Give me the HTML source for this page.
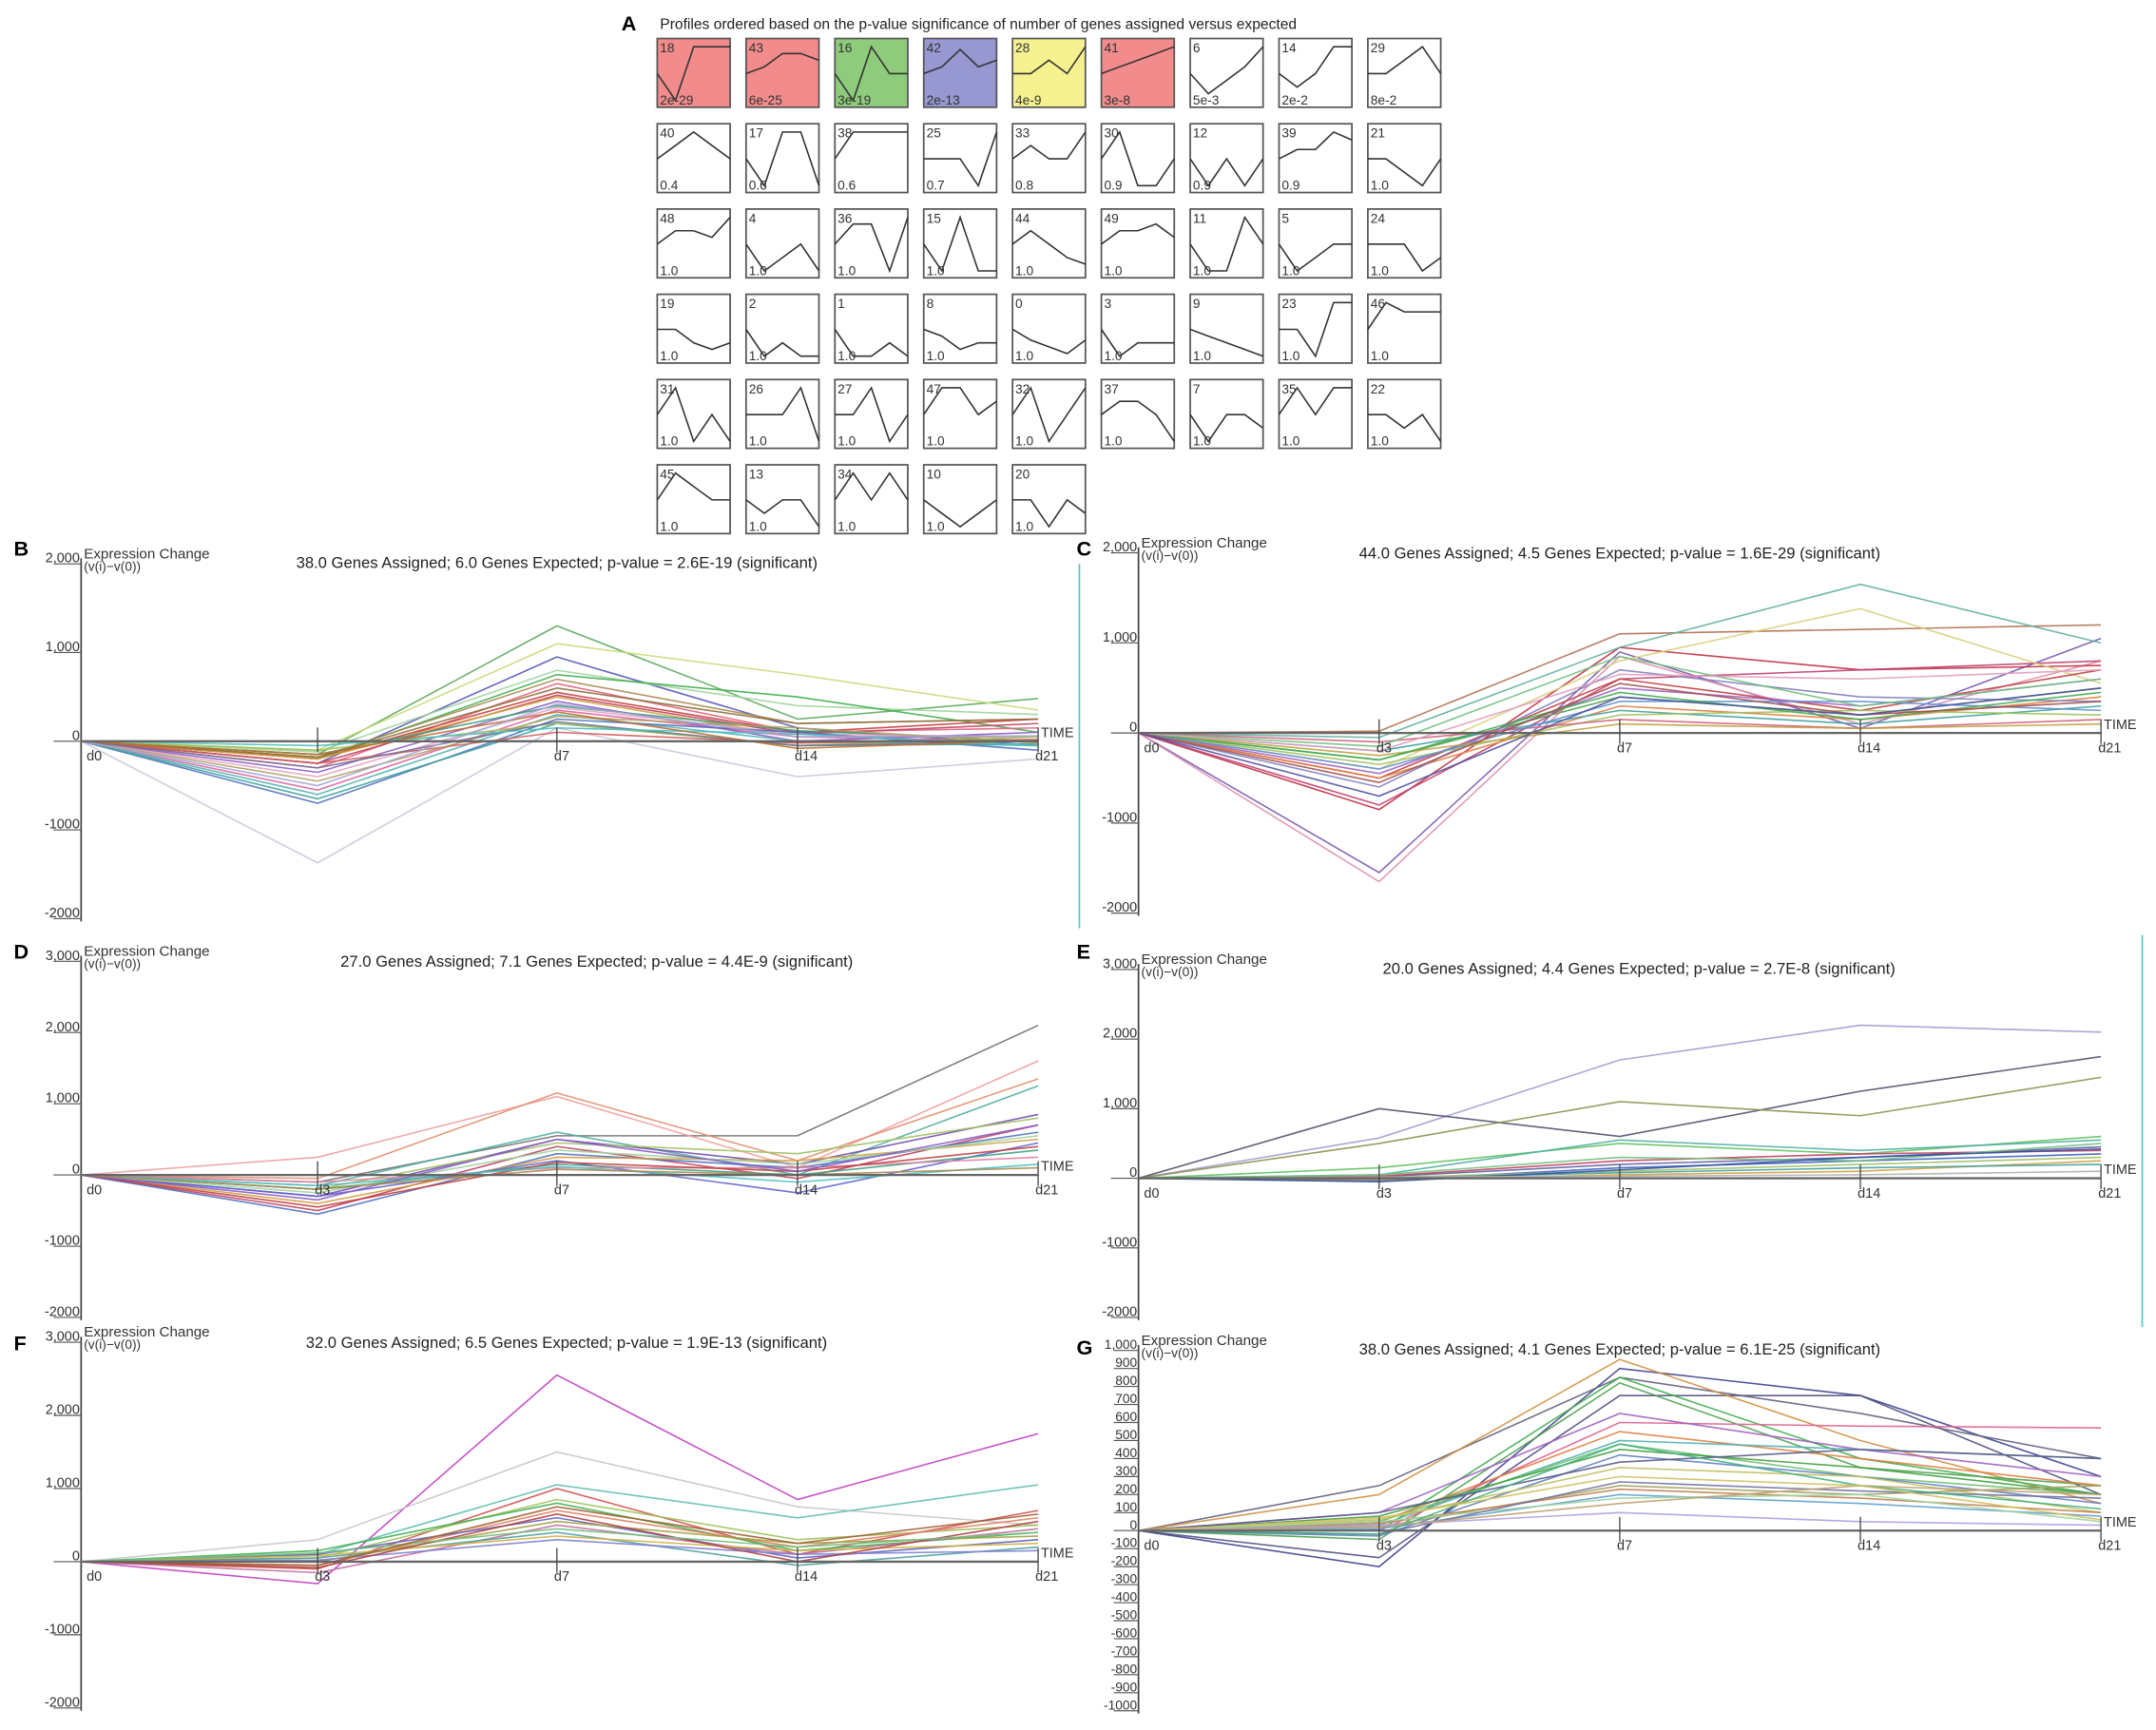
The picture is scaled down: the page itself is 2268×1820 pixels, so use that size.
<!DOCTYPE html>
<html><head><meta charset="utf-8"><style>
html,body{margin:0;padding:0;background:#fff;}
svg{display:block;font-family:"Liberation Sans",sans-serif;}
</style></head><body>
<svg id="fig" width="2268" height="1820" viewBox="0 0 1568 1258" preserveAspectRatio="none" xmlns="http://www.w3.org/2000/svg">
<rect x="0" y="0" width="1568" height="1258" fill="#fff"/>
<text x="452" y="22" font-size="15" font-weight="bold">A</text>
<text x="480" y="21" font-size="10.8" fill="#222">Profiles ordered based on the p-value significance of number of genes assigned versus expected</text>
<g id="profiles"></g>
<line x1="785" y1="410" x2="785" y2="675" stroke="#5cc8c8" stroke-width="1.2"/>
<line x1="1558" y1="680" x2="1558" y2="965" stroke="#5cc8c8" stroke-width="1.2"/>
<g id="charts"></g>
</svg>
<script>
const NS='http://www.w3.org/2000/svg';
// ---------- Panel A data ----------
const profileIds=[18,43,16,42,28,41,6,14,29,40,17,38,25,33,30,12,39,21,48,4,36,15,44,49,11,5,24,19,2,1,8,0,3,9,23,46,31,26,27,47,32,37,7,35,22,45,13,34,10,20];
const profilePvals=['2e-29','6e-25','3e-19','2e-13','4e-9','3e-8','5e-3','2e-2','8e-2','0.4','0.6','0.6','0.7','0.8','0.9','0.9','0.9','1.0','1.0','1.0','1.0','1.0','1.0','1.0','1.0','1.0','1.0','1.0','1.0','1.0','1.0','1.0','1.0','1.0','1.0','1.0','1.0','1.0','1.0','1.0','1.0','1.0','1.0','1.0','1.0','1.0','1.0','1.0','1.0','1.0'];
const profileShapes=[[0,-2,2,2,2],[0,0.5,1.5,1.5,1],[0,-2,2,0,0],[0,0.5,1.8,0.5,1],[0,0,1,0,2],[0,0.5,1,1.5,2],[0,-1.5,-0.5,0.5,2],[0,-1,0,2,2],[0,0,1,2,0],
[0,1,2,1,0],[0,-2,2,2,-2],[0,2,2,2,2],[0,0,0,-2,2],[0,1,0,0,2],[0,2,-2,-2,0],[0,-2,0,-2,0],[0,0.7,0.7,2,1.4],[0,0,-1,-2,0],
[0,1,1,0.5,2],[0,-2,-1,0,-2],[0,1.5,1.5,-2,2],[0,-2,2,-2,-2],[0,1,0,-1,-1.5],[0,1,1,1.5,0.5],[0,-2,-2,2,0],[0,-2,-1,0,0],[0,0,0,-2,-1],
[0,0,-1,-1.5,-1],[0,-2,-1,-2,-2],[0,-2,-2,-1,-2],[0,-0.5,-1.5,-1,-1],[0,-0.8,-1.3,-1.8,-0.8],[0,-2,-1,-1,-1],[0,-0.5,-1,-1.5,-2],[0,0,-2,2,2],[0,2,1.3,1.3,1.3],
[0,2,-2,0,-2],[0,0,0,2,-2],[0,0,2,-2,0],[0,2,2,0,1],[0,2,-2,0,2],[0,1,1,0,-2],[0,-2,0,0,-1],[0,2,0,2,2],[0,0,-1,0,-2],
[0,2,1,0,0],[0,-1,0,0,-2],[0,2,0,2,0],[0,-1,-2,-1,0],[0,0,-2,0,-1]];
const profileFills=['#f28b8b','#f28b8b','#8fcb7c','#9797d2','#f4f18e','#f28b8b'];

(function(){
  const g=document.getElementById('profiles');
  profileIds.forEach((id,i)=>{
    const col=i%9,row=Math.floor(i/9);
    const bx=478+col*64.6,by=28+row*62,bw=53,bh=50;
    const grp=document.createElementNS(NS,'g');
    
    
    const r=document.createElementNS(NS,'rect');
    r.setAttribute('x',bx);r.setAttribute('y',by);r.setAttribute('width',bw);r.setAttribute('height',bh);
    r.setAttribute('fill',i<6?profileFills[i]:'#fff');r.setAttribute('stroke','#555');r.setAttribute('stroke-width','1.2');
    grp.appendChild(r);
    const sh=profileShapes[i];
    const top=by+6,bot=by+bh-5;
    const pts=sh.map((v,k)=>(bx+k*bw/4).toFixed(1)+','+(bot-(v+2)/4*(bot-top)).toFixed(1)).join(' ');
    const pl=document.createElementNS(NS,'polyline');
    pl.setAttribute('points',pts);pl.setAttribute('fill','none');pl.setAttribute('stroke','#333');pl.setAttribute('stroke-width','1.1');
    grp.appendChild(pl);
    const t1=document.createElementNS(NS,'text');
    t1.setAttribute('x',bx+2);t1.setAttribute('y',by+10);t1.setAttribute('font-size','9.5');t1.setAttribute('fill','#333');
    t1.textContent=id;grp.appendChild(t1);
    const t2=document.createElementNS(NS,'text');
    t2.setAttribute('x',bx+2);t2.setAttribute('y',by+bh-2);t2.setAttribute('font-size','9.5');t2.setAttribute('fill','#333');
    t2.textContent=profilePvals[i];grp.appendChild(t2);
    g.appendChild(grp);
  });
})();

// ---------- Charts data ----------
const timepoints=['d0','d3','d7','d14','d21'];
const bData=[[0,-150,1300,250,480],[0,-100,1100,750,350],[0,-250,950,150,-50],[0,-120,800,400,300],[0,-200,750,500,100],[0,-180,700,200,250],[0,-300,650,100,150],[0,-200,550,100,250],[0,-250,520,80,200],[0,-200,500,50,50],[0,-350,450,0,100],[0,-150,400,120,0],[0,-400,380,80,50],[0,-550,350,50,0],[0,-600,300,0,-50],[0,-700,250,100,-100],[0,-650,200,-50,-30],[0,-1370,150,-400,-200],[0,-100,200,-50,50],[0,-250,100,-20,20],[0,-450,280,150,-20],[0,-180,600,200,250],[0,-300,220,-50,0],[0,-50,150,80,-50],[0,-150,330,-80,10],[0,-500,420,50,60]];
const cData=[[0,-1550,900,50,1050],[0,-1650,850,100,800],[0,-850,950,700,750],[0,-800,600,700,800],[0,20,1100,1150,1200],[0,-50,950,1650,1000],[0,-400,800,1380,550],[0,-500,600,250,700],[0,-450,500,300,600],[0,-300,400,200,500],[0,-500,300,150,400],[0,-600,700,400,350],[0,-200,250,100,300],[0,-350,200,250,200],[0,-100,150,50,150],[0,-400,350,350,250],[0,-250,100,50,100],[0,-300,450,150,450],[0,-150,850,300,600],[0,-550,550,200,350],[0,-700,400,200,500],[0,-200,650,600,700]];
const dData=[[0,-100,550,550,2100],[0,250,1100,100,1600],[0,-50,1150,200,1350],[0,-150,600,0,1250],[0,-300,500,150,850],[0,-200,450,300,800],[0,-500,400,-50,700],[0,-550,300,100,600],[0,-400,250,200,500],[0,-300,200,-250,450],[0,-200,150,0,350],[0,-100,100,100,250],[0,-250,350,150,550],[0,-450,180,50,400],[0,-150,120,-100,150],[0,-350,500,50,700],[0,-200,80,0,100]];
const eData=[[0,580,1700,2200,2100],[0,1000,600,1250,1750],[0,500,1100,900,1450],[0,150,500,350,600],[0,50,550,400,550],[0,20,200,300,450],[0,-30,150,250,350],[0,10,100,200,300],[0,30,250,350,400],[0,-20,50,100,250],[0,0,80,150,200],[0,50,300,250,500],[0,-50,120,300,420],[0,20,30,50,100]];
const fData=[[0,-300,2550,850,1750],[0,300,1500,750,500],[0,100,1050,600,1050],[0,-100,1000,100,700],[0,50,850,300,500],[0,150,800,150,400],[0,-50,700,200,600],[0,100,600,50,300],[0,0,550,250,350],[0,-150,500,100,450],[0,50,400,-50,200],[0,80,350,150,250],[0,20,300,100,150],[0,-80,650,0,550],[0,120,450,200,400],[0,-50,750,250,650]];
const gData=[[0,-200,900,750,300],[0,-150,750,750,200],[0,250,850,650,400],[0,200,950,500,150],[0,0,850,400,200],[0,-50,820,350,250],[0,0,600,580,570],[0,100,650,450,300],[0,50,550,400,250],[0,30,500,450,400],[0,50,480,300,200],[0,80,450,350,200],[0,-30,420,300,150],[0,100,380,450,400],[0,60,350,300,100],[0,20,250,200,250],[0,40,230,180,100],[0,10,200,150,80],[0,50,180,200,50],[0,-20,270,220,180],[0,30,100,50,30],[0,20,150,250,200],[0,-20,480,250,120],[0,70,300,250,60]];
const bColors=['#5aa85a','#c9dc7a','#5656b8','#9fd49f','#3fae4f','#a88a50','#e0607f','#c43c3c','#c04060','#d2a23c','#8a5cc4','#3c9c7c','#e6a0c0','#e060a0','#55b5b5','#5070c0','#40a0a0','#c8c8dc','#9ec25c','#d45a5a','#b0a060','#8e6e3a','#707090','#4cc0c0','#c07030','#a3a3d6'];
const cColors=['#7a5cb0','#e090b0','#c03040','#c04070','#b07050','#60b0a0','#d8d080','#c04040','#a060c0','#50a050','#e08040','#8080c0','#40a0a0','#9ec25c','#d06080','#6090d0','#c0a040','#3fae4f','#70c080','#a05050','#5050a0','#e0a0c0'];
const dColors=['#707070','#f0a0a0','#e09070','#50b0a0','#7050b0','#a0c060','#c04060','#5070c0','#d0a040','#6060d0','#40a080','#e080a0','#9fd49f','#c04040','#4cc0c0','#8a5cc4','#a88a50'];
const eColors=['#a0a0d0','#505070','#909050','#60c060','#50b0a0','#6060a0','#4060c0','#a0c060','#c04060','#d0a040','#40a0a0','#70c080','#3050a0','#b0b0b0'];
const fColors=['#c040c0','#c8c8c8','#60c0b0','#d05050','#9ec25c','#3fae4f','#e08060','#6060c0','#a0a040','#c070a0','#50a0a0','#d0b040','#8080d0','#b04040','#70c080','#a06030'];
const gColors=['#404090','#505080','#606080','#d09040','#3fae4f','#50a050','#e06090','#a060c0','#e08040','#50b0b0','#70c070','#40a040','#6080c0','#5a5a8a','#c0c060','#a0a060','#c08050','#60a0d0','#9fd49f','#7070a0','#b0a0e0','#c0a070','#40b080','#d0c060'];
const bTicks=[2000,1000,0,-1000,-2000];
const bTickLabels=['2,000','1,000','0','-1000','-2000'];
const dTicks=[3000,2000,1000,0,-1000,-2000];
const dTickLabels=['3,000','2,000','1,000','0','-1000','-2000'];
const gTicks=[1000,900,800,700,600,500,400,300,200,100,0,-100,-200,-300,-400,-500,-600,-700,-800,-900,-1000];
const gTickLabels=['1,000','900','800','700','600','500','400','300','200','100','0','-100','-200','-300','-400','-500','-600','-700','-800','-900','-1000'];
const titles=['38.0 Genes Assigned; 6.0 Genes Expected; p-value = 2.6E-19 (significant)','44.0 Genes Assigned; 4.5 Genes Expected; p-value = 1.6E-29 (significant)','27.0 Genes Assigned; 7.1 Genes Expected; p-value = 4.4E-9 (significant)','20.0 Genes Assigned; 4.4 Genes Expected; p-value = 2.7E-8 (significant)','32.0 Genes Assigned; 6.5 Genes Expected; p-value = 1.9E-13 (significant)','38.0 Genes Assigned; 4.1 Genes Expected; p-value = 6.1E-25 (significant)'];

function el(tag,attrs,parent){const e=document.createElementNS(NS,tag);for(const k in attrs)e.setAttribute(k,attrs[k]);parent.appendChild(e);return e;}

function drawChart(p){
  const root=document.getElementById('charts');
  const g=el('g',{},root);
  
  
  const y=v=>p.yTop+(p.vMax-v)/(p.vMax-p.vMin)*(p.yBot-p.yTop);
  const x=i=>p.xs[i];
  const lt=el('text',{x:p.letterX,y:p.letterY,'font-size':15,'font-weight':'bold'},g);lt.textContent=p.letter;
  
  
  const ya=el('line',{x1:p.ax,y1:y(p.vMax)-4,x2:p.ax,y2:y(p.vMin)+2,stroke:'#444','stroke-width':1.2},g);
  
  
  p.ticks.forEach((v,i)=>{
    const ty=y(v);
    el('line',{x1:p.ax-(p.tickLen||20),y1:ty,x2:p.ax,y2:ty,stroke:'#555','stroke-width':0.8},g);
    const t=el('text',{x:p.ax-1,y:ty-1,'font-size':p.tickFont||10,'text-anchor':'end',fill:'#333'},g);
    t.textContent=p.tickLabels[i];
    
    
  });
  const yl=el('text',{x:p.ax+2,y:y(p.vMax)-4,'font-size':10.5,fill:'#333'},g);yl.textContent='Expression Change';
  
  
  const yl2=el('text',{x:p.ax+2,y:y(p.vMax)+5,'font-size':9.5,fill:'#333'},g);yl2.textContent='(v(i)\u2212v(0))';
  const tt=el('text',{x:p.titleX,y:p.titleY,'font-size':11.5,'text-anchor':'middle',fill:'#222'},g);tt.textContent=p.title;
  
  
  const sg=el('g',{},g);
  p.data.forEach((row,si)=>{
    const pts=row.map((v,i)=>x(i).toFixed(1)+','+y(v).toFixed(1)).join(' ');
    const pl=el('polyline',{points:pts,fill:'none',stroke:p.colors[si%p.colors.length],'stroke-width':1.1,'stroke-opacity':0.9},sg);
    
    
  });
  const zy=y(0);
  const xa=el('line',{x1:p.ax,y1:zy,x2:x(4),y2:zy,stroke:'#666','stroke-width':1.6},g);
  
  
  timepoints.forEach((tp,i)=>{
    if(i>0) el('line',{x1:x(i),y1:zy-10,x2:x(i),y2:zy+8,stroke:'#444','stroke-width':0.9},g);
    if(p.hideD3&&i===1) return;
    const t=el('text',{x:x(i)+(i===0?4:-2),y:zy+14,'font-size':10,fill:'#333'},g);t.textContent=tp;
    
    
  });
  const tm=el('text',{x:x(4)+2,y:zy-3,'font-size':10,fill:'#333'},g);tm.textContent='TIME';
  
  
}
const leftXs=[59,231,405,580,755],rightXs=[828,1003,1178,1353,1528];
drawChart({name:'chart-b',letter:'B',letterX:10,letterY:404,ax:59,xs:leftXs,vMax:2000,vMin:-2000,yTop:410,yBot:668,ticks:bTicks,tickLabels:bTickLabels,title:titles[0],titleX:405,titleY:413,data:bData,colors:bColors,hideD3:true});
drawChart({name:'chart-c',letter:'C',letterX:783,letterY:404,ax:828,xs:rightXs,vMax:2000,vMin:-2000,yTop:402,yBot:664,ticks:bTicks,tickLabels:bTickLabels,title:titles[1],titleX:1178,titleY:406,data:cData,colors:cColors});
drawChart({name:'chart-d',letter:'D',letterX:10,letterY:697,ax:59,xs:leftXs,vMax:3000,vMin:-2000,yTop:699,yBot:958,ticks:dTicks,tickLabels:dTickLabels,title:titles[2],titleX:434,titleY:703,data:dData,colors:dColors});
drawChart({name:'chart-e',letter:'E',letterX:783,letterY:697,ax:828,xs:rightXs,vMax:3000,vMin:-2000,yTop:705,yBot:958,ticks:dTicks,tickLabels:dTickLabels,title:titles[3],titleX:1192,titleY:708,data:eData,colors:eColors});
drawChart({name:'chart-f',letter:'F',letterX:10,letterY:982,ax:59,xs:leftXs,vMax:3000,vMin:-2000,yTop:976,yBot:1242,ticks:dTicks,tickLabels:dTickLabels,title:titles[4],titleX:412,titleY:980,data:fData,colors:fColors});
drawChart({name:'chart-g',letter:'G',letterX:783,letterY:985,ax:828,xs:rightXs,vMax:1000,vMin:-1000,yTop:982,yBot:1244,ticks:gTicks,tickLabels:gTickLabels,title:titles[5],titleX:1178,titleY:985,data:gData,colors:gColors,tickFont:9.5,tickLen:18});
</script>
</body></html>
